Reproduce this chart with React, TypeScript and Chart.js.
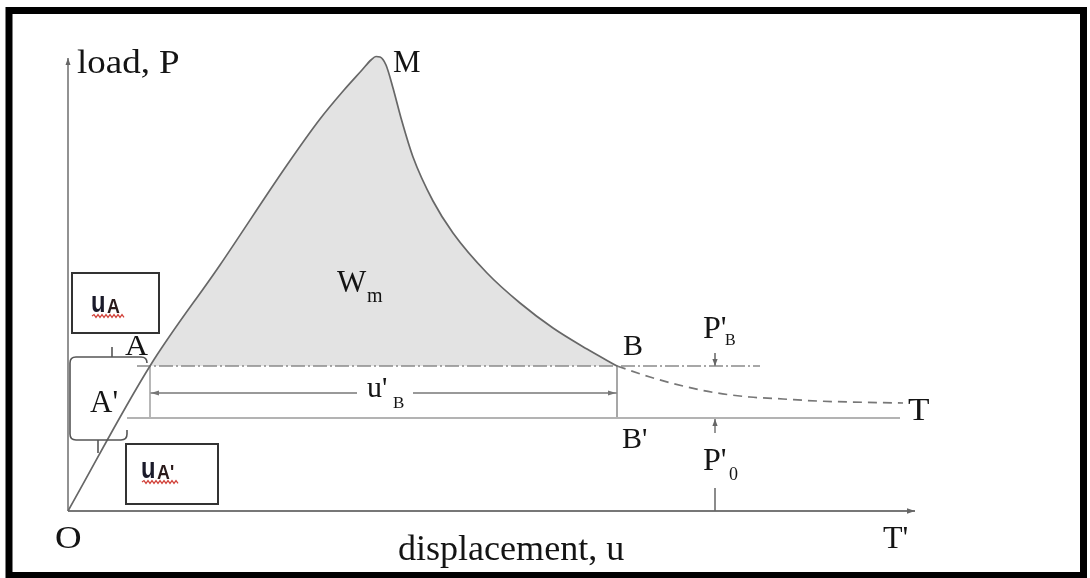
import React, { useEffect, useRef } from "react";
import { Chart, registerables } from "chart.js";

Chart.register(...registerables);

// Load–displacement curve O → A → M → B  (u = displacement, P = load)
const curveU = [0, 8.2, 15.2, 21.9, 25.2, 27.6, 29.4, 30.3, 30.8, 31.2, 31.8, 32.5, 33.3, 34.5, 36.5, 38.5, 41.9, 45.2, 48.5, 51.9, 54.9];
const curveP = [0, 14.5, 24.6, 34.6, 39.2, 42.1, 44.1, 45.1, 45.45, 45.4, 44.6, 42.3, 39.3, 35.4, 31.0, 27.8, 23.8, 20.8, 18.3, 16.2, 14.5];

// Softening tail B → T (dashed)
const tailU = [54.9, 58.2, 61.5, 64.9, 68.2, 71.5, 74.9, 78.2, 83.5];
const tailP = [14.5, 13.4, 12.5, 11.8, 11.4, 11.2, 11.0, 10.9, 10.8];

// Characteristic levels
const U_A = 8.2; // point A
const U_B = 54.9; // point B
const P_B = 14.5; // P'_B level (dash-dot)
const P_0 = 9.3; // P'_0 level (B'–T line)
const U_MARK = 64.7; // where the P' arrows sit
const P_DIM = 11.8; // u'_B dimension line
const AXIS_U_END = 84.7;
const AXIS_P_END = 45.3;
const DASHDOT_RANGE = [6.9, 69.2];
const BASE_RANGE = [5.9, 83.2];

// Scale window
const X_MIN = -6.8;
const X_MAX = 102.2;
const Y_MIN = -6.7;
const Y_MAX = 51.1;

const pts = (us: number[], ps: number[]) => us.map((u, i) => ({ x: u, y: ps[i] }));

const SERIF = "'Liberation Serif', 'DejaVu Serif', serif";
const SANS = "'Liberation Sans', Arial, sans-serif";

const overlay = {
  id: "diagramOverlay",
  afterDatasetsDraw(chart: any) {
    const { ctx } = chart;
    const xs = chart.scales.x;
    const ys = chart.scales.y;
    const X = (u: number) => xs.getPixelForValue(u);
    const Y = (p: number) => ys.getPixelForValue(p);

    ctx.save();

    // outer frame
    ctx.strokeStyle = "#000";
    ctx.lineWidth = 7;
    ctx.strokeRect(9, 10.5, chart.width - 15.5, chart.height - 13);

    const arrow = (tx: number, ty: number, dx: number, dy: number, len = 8, half = 3.2, color = "#666") => {
      const nx = -dy;
      const ny = dx;
      ctx.fillStyle = color;
      ctx.beginPath();
      ctx.moveTo(tx, ty);
      ctx.lineTo(tx - dx * len + nx * half, ty - dy * len + ny * half);
      ctx.lineTo(tx - dx * len - nx * half, ty - dy * len - ny * half);
      ctx.closePath();
      ctx.fill();
    };

    // axis arrowheads
    arrow(X(0), Y(AXIS_P_END), 0, -1, 7, 2.5, "#666");
    arrow(X(AXIS_U_END), Y(0), 1, 0, 8, 2.8, "#666");
    // u'_B dimension arrows
    arrow(X(U_A) + 1, Y(P_DIM), -1, 0, 8, 2.6, "#777");
    arrow(X(U_B) - 1, Y(P_DIM), 1, 0, 8, 2.6, "#777");
    // P' arrows
    arrow(X(U_MARK), Y(P_B), 0, 1, 7, 2.6, "#666");
    arrow(X(U_MARK), Y(P_0) + 1, 0, -1, 7, 2.6, "#666");

    // brace around A'
    ctx.strokeStyle = "#555";
    ctx.lineWidth = 1.6;
    const r = 6;
    const L = X(0.2), T = Y(15.4), B = Y(7.1), R1 = X(7.9), R2 = X(5.9);
    ctx.beginPath();
    ctx.moveTo(R1, T + 6);
    ctx.quadraticCurveTo(R1, T, R1 - r, T);
    ctx.lineTo(L + r, T);
    ctx.quadraticCurveTo(L, T, L, T + r);
    ctx.lineTo(L, B - r);
    ctx.quadraticCurveTo(L, B, L + r, B);
    ctx.lineTo(R2 - r, B);
    ctx.quadraticCurveTo(R2, B, R2, B - r);
    ctx.lineTo(R2, B - 10);
    ctx.moveTo(X(4.4), T);
    ctx.lineTo(X(4.4), T - 10);
    ctx.moveTo(X(3.0), B);
    ctx.lineTo(X(3.0), B + 13);
    ctx.stroke();

    // labelled boxes
    const box = (u0: number, p0: number, u1: number, p1: number) => {
      ctx.fillStyle = "#fff";
      ctx.fillRect(X(u0), Y(p0), X(u1) - X(u0), Y(p1) - Y(p0));
      ctx.strokeStyle = "#333";
      ctx.lineWidth = 2;
      ctx.strokeRect(X(u0), Y(p0), X(u1) - X(u0), Y(p1) - Y(p0));
    };
    const squiggle = (x0: number, x1: number, yy: number) => {
      ctx.strokeStyle = "#d2423a";
      ctx.lineWidth = 1.2;
      ctx.beginPath();
      let up = true;
      ctx.moveTo(x0, yy);
      for (let xx = x0 + 2; xx <= x1; xx += 2) {
        ctx.lineTo(xx, yy + (up ? -1.4 : 1.4));
        up = !up;
      }
      ctx.stroke();
    };
    box(0.4, 23.8, 9.1, 17.8);
    box(5.8, 6.7, 15.0, 0.7);

    const text = (s: string, u: number, p: number, font: string, sx = 1, color = "#141414") => {
      ctx.save();
      ctx.font = font;
      ctx.fillStyle = color;
      ctx.textAlign = "left";
      ctx.textBaseline = "alphabetic";
      ctx.translate(X(u), Y(p));
      ctx.scale(sx, 1);
      ctx.fillText(s, 0, 0);
      ctx.restore();
    };

    // u_A and u_A' (box captions)
    text("u", 2.3, 19.9, `bold 29px ${SANS}`, 0.82, "#1a1a2a");
    text("A", 3.9, 19.8, `bold 21px ${SANS}`, 0.85, "#2a1a1a");
    squiggle(X(2.4), X(5.6), Y(19.5));
    text("u", 7.3, 3.3, `bold 29px ${SANS}`, 0.82, "#1a1a2a");
    text("A'", 8.9, 3.2, `bold 21px ${SANS}`, 0.85, "#2a1a1a");
    squiggle(X(7.4), X(11.0), Y(2.9));

    // point and axis labels
    text("load, P", 0.9, 43.8, `33px ${SERIF}`, 1.12);
    text("M", 32.5, 43.9, `31px ${SERIF}`);
    text("W", 26.9, 21.9, `31px ${SERIF}`);
    text("m", 29.9, 20.9, `20px ${SERIF}`);
    text("A", 5.7, 15.6, `29px ${SERIF}`, 1.1);
    text("A'", 2.2, 9.9, `31px ${SERIF}`);
    text("B", 55.5, 15.6, `30px ${SERIF}`);
    text("B'", 55.4, 6.3, `30px ${SERIF}`);
    text("P'", 63.5, 17.3, `32px ${SERIF}`);
    text("B", 65.7, 16.6, `16px ${SERIF}`);
    text("P'", 63.5, 4.1, `32px ${SERIF}`);
    text("0", 66.1, 3.1, `18px ${SERIF}`);
    text("T", 84.0, 9.1, `32px ${SERIF}`, 1.1);
    text("T'", 81.5, -3.7, `32px ${SERIF}`);
    text("O", -1.3, -3.7, `32px ${SERIF}`, 1.15);
    text("displacement, u", 33.0, -4.9, `35px ${SERIF}`, 1.03);
    text("u'", 29.9, 11.4, `30px ${SERIF}`);
    text("B", 32.5, 10.3, `17px ${SERIF}`);

    ctx.restore();
  },
};

const line = (data: { x: number; y: number }[], color: string, width: number, extra: any = {}) => ({
  data,
  borderColor: color,
  borderWidth: width,
  pointRadius: 0,
  fill: false,
  tension: 0,
  ...extra,
});

export default function App() {
  const ref = useRef<HTMLCanvasElement | null>(null);

  useEffect(() => {
    if (!ref.current) return;
    const curve = pts(curveU, curveP);
    const chart = new Chart(ref.current, {
      type: "line",
      data: {
        datasets: [
          // work area W_m between curve and P'_B level
          line(curve.slice(1), "rgba(0,0,0,0)", 0, {
            fill: { value: P_B },
            backgroundColor: "#e3e3e3",
            cubicInterpolationMode: "monotone",
            order: 10,
          }),
          line(curve, "#676767", 1.7, { cubicInterpolationMode: "monotone", order: 1 }),
          line(pts(tailU, tailP), "#777", 1.7, { cubicInterpolationMode: "monotone", borderDash: [9, 6], order: 2 }),
          line(pts(DASHDOT_RANGE, [P_B, P_B]), "#8a8a8a", 1.5, { borderDash: [14, 3, 2, 3], order: 3 }),
          line(pts(BASE_RANGE, [P_0, P_0]), "#b3b3b3", 2, { order: 4 }),
          line(pts([U_A, U_A], [P_B, P_0]), "#a0a0a0", 1.5, { order: 5 }),
          line(pts([U_B, U_B], [P_B, P_0]), "#8a8a8a", 1.5, { order: 5 }),
          line(pts([U_A, 28.9], [P_DIM, P_DIM]), "#777", 1.5, { order: 5 }),
          line(pts([34.5, U_B], [P_DIM, P_DIM]), "#777", 1.5, { order: 5 }),
          line(pts([U_MARK, U_MARK], [15.8, P_B]), "#666", 1.5, { order: 5 }),
          line(pts([U_MARK, U_MARK], [P_0, 7.8]), "#777", 1.5, { order: 5 }),
          line(pts([U_MARK, U_MARK], [2.3, 0]), "#666", 1.5, { order: 5 }),
          line(pts([0, 0], [0, AXIS_P_END]), "#777", 1.6, { order: 6 }),
          line(pts([0, AXIS_U_END], [0, 0]), "#777", 1.8, { order: 6 }),
        ],
      },
      options: {
        responsive: false,
        animation: false,
        layout: { padding: 0 },
        plugins: { legend: { display: false }, tooltip: { enabled: false } },
        scales: {
          x: { type: "linear", display: false, min: X_MIN, max: X_MAX },
          y: { type: "linear", display: false, min: Y_MIN, max: Y_MAX },
        },
      },
      plugins: [overlay],
    } as any);
    return () => chart.destroy();
  }, []);

  return (
    <div style={{ position: "fixed", left: 0, top: 0, width: 1090, height: 578, background: "#fff" }}>
      <canvas ref={ref} width={1090} height={578} style={{ display: "block" }} />
    </div>
  );
}
